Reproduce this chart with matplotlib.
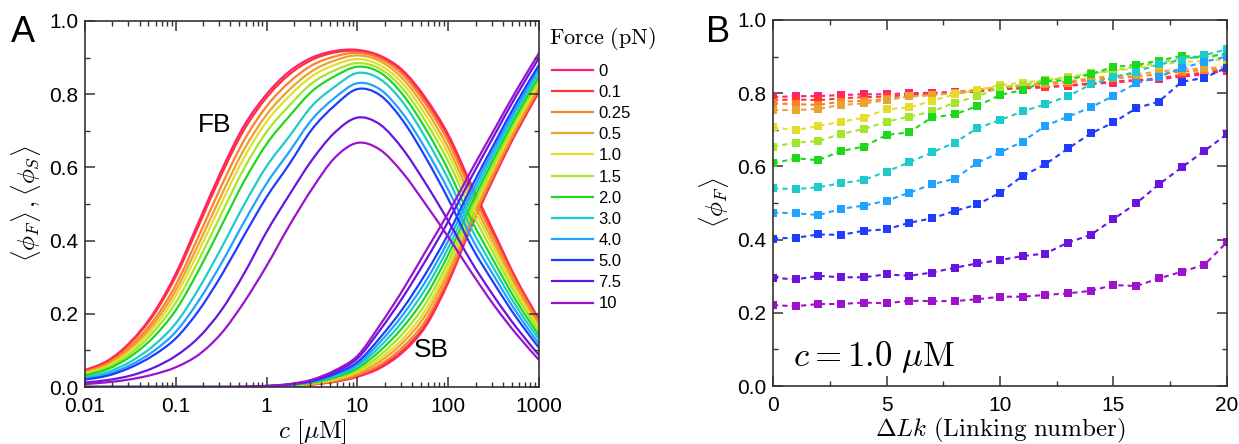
import matplotlib
matplotlib.use("Agg")
import numpy as np
import matplotlib.pyplot as plt
from matplotlib.path import Path
from matplotlib.patches import PathPatch
from matplotlib.lines import Line2D
from matplotlib.ticker import MultipleLocator, NullFormatter

plt.rcParams['font.family'] = ['Liberation Sans', 'DejaVu Sans']
plt.rcParams['mathtext.fontset'] = 'cm'

# force values (pN) and their colours
forces = ['0', '0.1', '0.25', '0.5', '1.0', '1.5', '2.0', '3.0', '4.0', '5.0', '7.5', '10']
colors = ['#ff1f7e', '#ff3434', '#ff7f2a', '#e8a332', '#e5dd2a', '#a5e52c',
          '#1ed81e', '#1ccccc', '#1fa3ff', '#1f3dff', '#6a14e0', '#9e12cc']

# panel A: concentration grid (uM), quarter-decade steps
conc = [0.01, 0.0178, 0.0316, 0.0562, 0.1, 0.178, 0.316, 0.562, 1, 1.78, 3.16,
        5.62, 10, 17.8, 31.6, 56.2, 100, 178, 316, 562, 1000]

# first-bound fraction <phi_F>, one row per force
fb_curves = [
    [.046, .072, .123, .200, .310, .450, .590, .713, .800, .862, .900, .918, .921, .905, .865, .790, .690, .555, .425, .295, .185],
    [.045, .070, .120, .195, .302, .440, .579, .702, .791, .854, .894, .914, .918, .902, .861, .784, .683, .548, .419, .291, .182],
    [.041, .065, .111, .180, .279, .411, .548, .673, .767, .833, .879, .903, .913, .897, .853, .774, .671, .536, .409, .283, .176],
    [.039, .061, .105, .170, .264, .390, .523, .648, .744, .812, .863, .892, .906, .890, .842, .760, .654, .519, .395, .273, .168],
    [.037, .058, .099, .160, .249, .370, .501, .626, .725, .795, .849, .880, .896, .879, .829, .744, .637, .502, .381, .262, .161],
    [.034, .054, .091, .149, .231, .346, .472, .596, .697, .769, .830, .865, .885, .869, .815, .726, .617, .483, .365, .250, .152],
    [.031, .049, .083, .135, .210, .318, .439, .561, .664, .740, .808, .849, .875, .859, .799, .706, .593, .459, .345, .235, .141],
    [.026, .041, .069, .112, .174, .268, .379, .497, .603, .685, .768, .820, .858, .841, .778, .681, .568, .435, .325, .220, .130],
    [.022, .035, .060, .097, .151, .235, .337, .450, .556, .643, .731, .790, .830, .813, .747, .651, .539, .411, .305, .205, .118],
    [.020, .031, .053, .086, .133, .208, .304, .413, .519, .609, .704, .769, .814, .797, .728, .628, .514, .387, .285, .190, .107],
    [.012, .019, .031, .052, .085, .135, .209, .309, .424, .525, .620, .695, .736, .717, .650, .557, .454, .344, .249, .163, .087],
    [.008, .013, .021, .034, .054, .088, .146, .231, .331, .441, .541, .626, .667, .648, .585, .500, .410, .315, .225, .145, .074],
]

# second-bound fraction <phi_S>, one row per force
sb_curves = [
    [0, 0, 0, 0, 0, 0, 0, 0, .001, .003, .007, .014, .028, .052, .095, .165, .285, .435, .570, .695, .806],
    [0, 0, 0, 0, 0, 0, 0, 0, .001, .003, .007, .015, .030, .056, .100, .171, .291, .440, .574, .699, .809],
    [0, 0, 0, 0, 0, 0, 0, 0, .001, .003, .008, .016, .033, .061, .109, .181, .300, .447, .580, .704, .815],
    [0, 0, 0, 0, 0, 0, 0, 0, .001, .004, .009, .019, .037, .070, .121, .196, .314, .458, .590, .712, .822],
    [0, 0, 0, 0, 0, 0, 0, 0, .001, .004, .010, .021, .041, .078, .132, .210, .327, .469, .599, .720, .829],
    [0, 0, 0, 0, 0, 0, 0, 0, .002, .005, .011, .023, .045, .087, .146, .227, .342, .482, .609, .730, .838],
    [0, 0, 0, 0, 0, 0, 0, 0, .002, .005, .012, .026, .051, .099, .163, .247, .361, .497, .622, .741, .848],
    [0, 0, 0, 0, 0, 0, 0, 0, .002, .006, .014, .030, .057, .111, .180, .268, .380, .513, .635, .753, .859],
    [0, 0, 0, 0, 0, 0, 0, 0, .002, .006, .015, .033, .062, .123, .197, .288, .399, .528, .648, .764, .870],
    [0, 0, 0, 0, 0, 0, 0, 0, .002, .007, .016, .036, .068, .135, .214, .309, .418, .544, .661, .776, .880],
    [0, 0, 0, 0, 0, 0, 0, 0, .003, .007, .018, .041, .078, .156, .245, .345, .452, .571, .684, .796, .899],
    [0, 0, 0, 0, 0, 0, 0, .001, .003, .008, .020, .045, .085, .170, .265, .370, .475, .590, .700, .810, .912],
]

# panel B: linking number and <phi_F> at c = 1.0 uM
dlk = list(range(21))
phi_f = [
    [.789, .792, .792, .795, .797, .797, .800, .801, .804, .807, .811, .813, .816, .820, .825, .829, .834, .838, .845, .852, .862],
    [.781, .783, .781, .786, .789, .791, .795, .798, .801, .804, .811, .815, .818, .822, .827, .832, .836, .841, .850, .856, .865],
    [.772, .770, .768, .777, .779, .784, .791, .795, .801, .809, .815, .820, .825, .829, .836, .841, .845, .852, .859, .863, .868],
    [.754, .754, .757, .768, .772, .781, .791, .795, .800, .809, .816, .822, .829, .832, .841, .847, .852, .859, .865, .868, .872],
    [.707, .699, .710, .722, .733, .756, .761, .779, .797, .809, .822, .829, .836, .845, .854, .861, .868, .877, .886, .888, .893],
    [.654, .665, .669, .689, .702, .722, .736, .750, .774, .791, .816, .822, .836, .841, .854, .863, .872, .883, .895, .898, .904],
    [.608, .622, .617, .642, .654, .686, .693, .734, .742, .765, .795, .809, .832, .836, .852, .872, .877, .889, .902, .898, .909],
    [.540, .538, .543, .554, .563, .586, .611, .638, .665, .704, .727, .750, .770, .792, .824, .843, .859, .879, .891, .904, .920],
    [.474, .472, .467, .484, .493, .506, .528, .551, .566, .610, .638, .668, .711, .736, .761, .793, .827, .845, .868, .886, .900],
    [.403, .405, .414, .413, .424, .428, .446, .458, .478, .496, .528, .574, .606, .649, .690, .720, .759, .777, .831, .842, .870],
    [.296, .291, .301, .297, .297, .305, .301, .310, .323, .335, .344, .355, .362, .392, .413, .456, .499, .551, .597, .642, .688],
    [.221, .218, .224, .224, .228, .226, .233, .232, .232, .237, .244, .244, .249, .253, .260, .276, .273, .294, .312, .331, .393],
]


def smooth_log_path(xs, ys):
    # cubic Bezier segments through the points (Catmull-Rom tangents in log10 x)
    lx = np.log10(np.asarray(xs, float))
    y = np.asarray(ys, float)
    px = np.concatenate([[lx[0]], lx, [lx[-1]]])
    py = np.concatenate([[y[0]], y, [y[-1]]])
    verts = [(10 ** lx[0], y[0])]
    codes = [Path.MOVETO]
    for i in range(len(lx) - 1):
        j = i + 1
        c1 = (px[j] + (px[j + 1] - px[j - 1]) / 6, py[j] + (py[j + 1] - py[j - 1]) / 6)
        c2 = (px[j + 1] - (px[j + 2] - px[j]) / 6, py[j + 1] - (py[j + 2] - py[j]) / 6)
        verts += [(10 ** c1[0], c1[1]), (10 ** c2[0], c2[1]), (10 ** lx[j], y[j])]
        codes += [Path.CURVE4] * 3
    return Path(verts, codes)


W, H = 1239, 444
fig = plt.figure(figsize=(W / 100, H / 100), dpi=100)
axA = fig.add_axes([85 / W, 1 - 387 / H, 454 / W, 366 / H])
axB = fig.add_axes([773 / W, 1 - 386 / H, 454 / W, 366 / H])

for ax in (axA, axB):
    for sp in ax.spines.values():
        sp.set_color('#333333')
        sp.set_linewidth(1.2)
    ax.tick_params(which='both', direction='in', top=True, right=True,
                   colors='#333333', labelcolor='black', labelsize=15)
    ax.tick_params(which='major', length=7, width=1.1)
    ax.tick_params(which='minor', length=3.5, width=1.0)
    ax.tick_params(axis='x', which='major', pad=7)
    ax.tick_params(axis='y', which='major', pad=5)

# ---- panel A ----
axA.set_xscale('log')
axA.set_xlim(0.01, 1000)
axA.set_ylim(0, 1.0)
handles = []
for i in range(len(forces)):
    for curve in (fb_curves[i], sb_curves[i]):
        axA.add_patch(PathPatch(smooth_log_path(conc, curve), facecolor='none',
                                edgecolor=colors[i], lw=1.6, capstyle='round',
                                transform=axA.transData))
    handles.append(Line2D([], [], color=colors[i], lw=1.6, label=forces[i]))

axA.set_xticks([0.01, 0.1, 1, 10, 100, 1000])
axA.set_xticklabels(['0.01', '0.1', '1', '10', '100', '1000'])
axA.xaxis.set_minor_formatter(NullFormatter())
axA.yaxis.set_major_locator(MultipleLocator(0.2))
axA.yaxis.set_minor_locator(MultipleLocator(0.1))
axA.set_yticklabels([f'{v:.1f}' for v in axA.get_yticks()])
axA.set_xlabel(r'$c\ [\mu\mathrm{M}]$', fontsize=18, labelpad=1)
axA.set_ylabel(r'$\langle\phi_F\rangle\,,\langle\phi_S\rangle$', fontsize=18, labelpad=4)
axA.text(0.27, 0.716, 'FB', fontsize=19, ha='center', va='center')
axA.text(66, 0.10, 'SB', fontsize=19, ha='center', va='center')

fig.text(549 / W, 1 - 38 / H, r'$\mathrm{Force\ (pN)}$', fontsize=16,
         ha='left', va='center')
axA.legend(handles=handles, loc='upper left', bbox_to_anchor=(545 / W, 1 - 57 / H),
           bbox_transform=fig.transFigure, frameon=False, fontsize=12,
           handlelength=2.5, handletextpad=0.3, labelspacing=0.37,
           borderaxespad=0)

# ---- panel B ----
for i in range(len(forces)):
    axB.plot(dlk, phi_f[i], color=colors[i], lw=1.5, ls=(0, (2.5, 2)),
             marker='s', ms=6.2, mew=0)

axB.set_xlim(0, 20)
axB.set_ylim(0, 1.0)
axB.xaxis.set_major_locator(MultipleLocator(5))
axB.xaxis.set_minor_locator(MultipleLocator(2.5))
axB.yaxis.set_major_locator(MultipleLocator(0.2))
axB.yaxis.set_minor_locator(MultipleLocator(0.1))
axB.set_yticklabels([f'{v:.1f}' for v in axB.get_yticks()])
axB.set_xlabel(r'$\Delta Lk\ \mathrm{(Linking\ number)}$', fontsize=18, labelpad=1)
axB.set_ylabel(r'$\langle\phi_F\rangle$', fontsize=18, labelpad=4)
axB.text(0.9, 0.08, r'$c = 1.0\ \mu\mathrm{M}$', fontsize=25, ha='left', va='center')

fig.text(23 / W, 1 - 32 / H, 'A', fontsize=26, ha='center', va='center')
fig.text(718 / W, 1 - 32 / H, 'B', fontsize=26, ha='center', va='center')

fig.savefig('out.png', dpi=100)
